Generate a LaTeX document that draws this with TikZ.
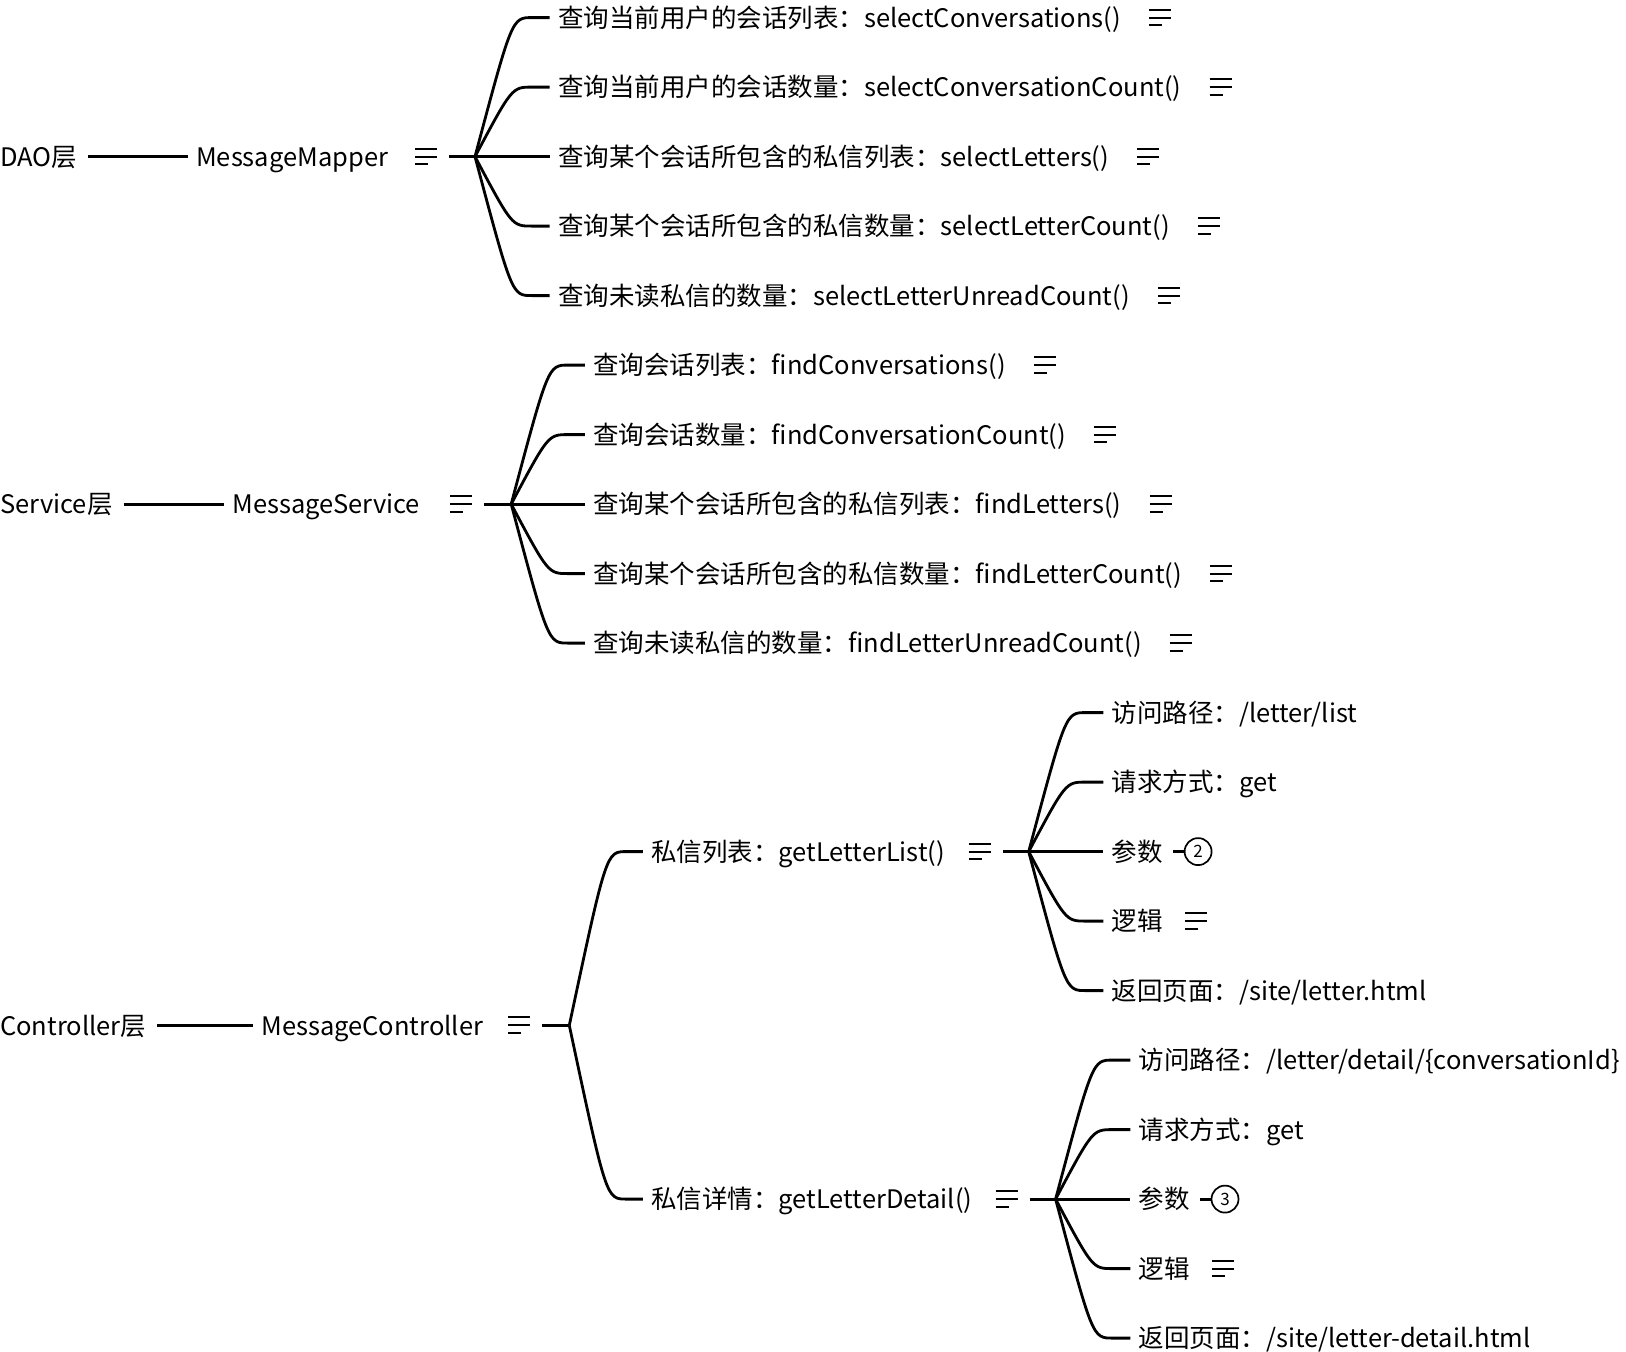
\documentclass[tikz,border=0pt]{standalone}
\usepackage{fontspec}
\setmainfont{Noto Sans CJK SC}
\newfontfamily\latf{Noto Sans CJK SC}
\usetikzlibrary{calc}
\tikzset{
  txt/.style={anchor=west, inner sep=0pt, text height=19.4pt, text depth=0pt, font=\fontsize{25.5}{30}\selectfont},
  conn/.style={line width=2.8pt},
  iconline/.style={line width=2pt},
  menubox/.style={anchor=west, minimum width=22pt, minimum height=19pt, inner sep=0pt},
  num/.style={circle, draw, line width=1.7pt, minimum size=27pt, inner sep=0pt, font=\fontsize{17}{17}\selectfont}
}
\newcommand\menuat[2]{%
  \node[menubox] (#1) at (#2) {};
  \draw[iconline] ([yshift=8pt]#1.west) -- ++(22,0)
                  (#1.west) -- ++(22,0)
                  ([yshift=-7.5pt]#1.west) -- ++(13,0);}
\newcommand\branch[2]{%
  \draw[conn] (#1) .. controls ($(#1 |- #2.west)+(37,0)$) .. ($(#1 |- #2.west)+(57,0)$) -- ([xshift=-8.3pt]#2.west);}
\begin{document}
\begin{tikzpicture}[x=1pt,y=-1pt]
\useasboundingbox (0,0) rectangle (1626,1352);

% ---------------- DAO ----------------
\node[txt] (dao) at (0,156.6) {{\latf DAO}层};
\node[txt] (mm) at (196,156.6) {\latf MessageMapper};
\draw[conn] ([xshift=11pt]dao.east) -- ([xshift=-8pt]mm.west);
\menuat{mmi}{415,156.6}
\coordinate (hd) at (475,156.6);
\draw[conn] ([xshift=12pt]mmi.east) -- (hd);

\node[txt] (d1) at (558,17.6)  {查询当前用户的会话列表：{\latf selectConversations()}};
\node[txt] (d2) at (558,87.1)  {查询当前用户的会话数量：{\latf selectConversationCount()}};
\node[txt] (d3) at (558,156.6) {查询某个会话所包含的私信列表：{\latf selectLetters()}};
\node[txt] (d4) at (558,226.1) {查询某个会话所包含的私信数量：{\latf selectLetterCount()}};
\node[txt] (d5) at (558,295.6) {查询未读私信的数量：{\latf selectLetterUnreadCount()}};
\foreach \c in {d1,d2,d3,d4,d5} {\branch{hd}{\c}}
\menuat{d1m}{$(d1.east)+(28,0)$}
\menuat{d2m}{$(d2.east)+(28,0)$}
\menuat{d3m}{$(d3.east)+(28,0)$}
\menuat{d4m}{$(d4.east)+(28,0)$}
\menuat{d5m}{$(d5.east)+(28,0)$}

% ---------------- Service ----------------
\node[txt] (svc) at (0,504.1) {{\latf Service}层};
\node[txt] (ms) at (232.3,504.1) {\latf MessageService};
\draw[conn] ([xshift=11pt]svc.east) -- ([xshift=-8pt]ms.west);
\menuat{msi}{450,504.1}
\coordinate (hs) at (511.2,504.1);
\draw[conn] ([xshift=12pt]msi.east) -- (hs);

\node[txt] (s1) at (593.2,365.1) {查询会话列表：{\latf findConversations()}};
\node[txt] (s2) at (593.2,434.6) {查询会话数量：{\latf findConversationCount()}};
\node[txt] (s3) at (593.2,504.1) {查询某个会话所包含的私信列表：{\latf findLetters()}};
\node[txt] (s4) at (593.2,573.6) {查询某个会话所包含的私信数量：{\latf findLetterCount()}};
\node[txt] (s5) at (593.2,643.1) {查询未读私信的数量：{\latf findLetterUnreadCount()}};
\foreach \c in {s1,s2,s3,s4,s5} {\branch{hs}{\c}}
\menuat{s1m}{$(s1.east)+(28,0)$}
\menuat{s2m}{$(s2.east)+(28,0)$}
\menuat{s3m}{$(s3.east)+(28,0)$}
\menuat{s4m}{$(s4.east)+(28,0)$}
\menuat{s5m}{$(s5.east)+(28,0)$}

% ---------------- Controller ----------------
\node[txt] (ctl) at (0,1025.35) {{\latf Controller}层};
\node[txt] (mc) at (261.3,1025.35) {\latf MessageController};
\draw[conn] ([xshift=11pt]ctl.east) -- ([xshift=-8pt]mc.west);
\menuat{mci}{508,1025.35}
\coordinate (hc) at (569.3,1025.35);
\draw[conn] ([xshift=12pt]mci.east) -- (hc);

\node[txt] (g1) at (651.2,851.6)  {私信列表：{\latf getLetterList()}};
\node[txt] (g2) at (651.2,1199.1) {私信详情：{\latf getLetterDetail()}};
\branch{hc}{g1}
\branch{hc}{g2}

% list sub-branch
\menuat{g1i}{968.6,851.6}
\coordinate (ha) at (1028.7,851.6);
\draw[conn] ([xshift=12pt]g1i.east) -- (ha);
\node[txt] (a1) at (1111.7,712.6) {访问路径：{\latf /letter/list}};
\node[txt] (a2) at (1111.7,782.1) {请求方式：{\latf get}};
\node[txt] (a3) at (1111.7,851.6) {参数};
\node[txt] (a4) at (1111.7,921.1) {逻辑};
\node[txt] (a5) at (1111.7,990.6) {返回页面：{\latf /site/letter.html}};
\foreach \c in {a1,a2,a3,a4,a5} {\branch{ha}{\c}}
\node[num] (a3n) at ($(a3.east)+(35,0)$) {2};
\draw[conn] (a3n.west) -- ++(-11,0);
\menuat{a4m}{$(a4.east)+(22,0)$}

% detail sub-branch
\menuat{g2i}{995.5,1199.1}
\coordinate (hb) at (1055.6,1199.1);
\draw[conn] ([xshift=12pt]g2i.east) -- (hb);
\node[txt] (b1) at (1138.6,1060.1) {访问路径：{\latf /letter/detail/\{conversationId\}}};
\node[txt] (b2) at (1138.6,1129.6) {请求方式：{\latf get}};
\node[txt] (b3) at (1138.6,1199.1) {参数};
\node[txt] (b4) at (1138.6,1268.6) {逻辑};
\node[txt] (b5) at (1138.6,1338.1) {返回页面：{\latf /site/letter-detail.html}};
\foreach \c in {b1,b2,b3,b4,b5} {\branch{hb}{\c}}
\node[num] (b3n) at ($(b3.east)+(35,0)$) {3};
\draw[conn] (b3n.west) -- ++(-11,0);
\menuat{b4m}{$(b4.east)+(22,0)$}
\end{tikzpicture}
\end{document}
